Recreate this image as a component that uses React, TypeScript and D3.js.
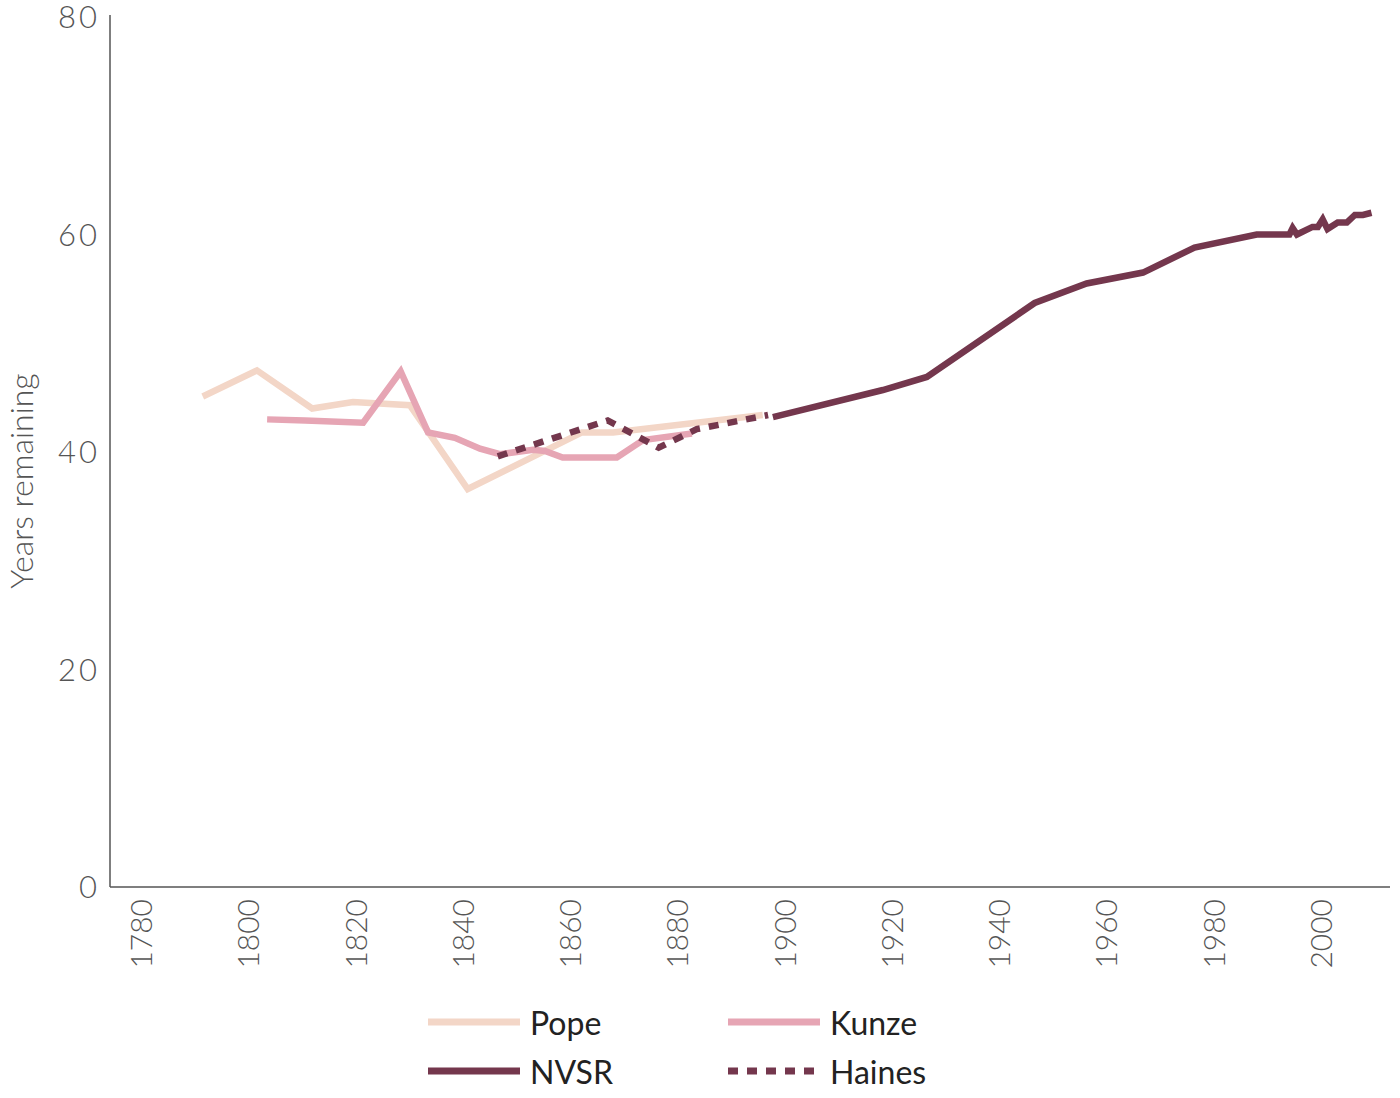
import React from "react";
import * as d3 from "d3";

type Pt = { year: number; value: number };

const popeYears = [1791.7, 1801.8, 1812.1, 1819.7, 1830.3, 1841.1, 1862.4, 1868.2, 1896.1];
const popeValues = [45.1, 47.5, 44.0, 44.6, 44.3, 36.6, 41.8, 41.8, 43.4];

const kunzeYears = [1803.7, 1810.8, 1821.6, 1828.6, 1833.7, 1838.7, 1843.4, 1847.1, 1853.3, 1855.5, 1858.8, 1868.9, 1873.8, 1882.9];
const kunzeValues = [43.0, 42.9, 42.7, 47.4, 41.8, 41.3, 40.3, 39.8, 40.2, 40.1, 39.5, 39.5, 41.1, 41.7];

const hainesYears = [1846.7, 1867.2, 1876.7, 1883.8, 1897.1];
const hainesValues = [39.6, 42.9, 40.4, 42.1, 43.4];

const nvsrYears = [1898.0, 1918.5, 1926.7, 1946.8, 1956.5, 1967.0, 1976.6, 1988.2, 1994.3, 1994.9, 1995.7, 1998.6, 1999.6, 2000.5, 2001.4, 2003.3, 2005.0, 2006.5, 2008.0, 2009.6];
const nvsrValues = [43.2, 45.7, 46.9, 53.7, 55.5, 56.5, 58.8, 60.0, 60.0, 60.6, 60.0, 60.7, 60.7, 61.4, 60.5, 61.1, 61.1, 61.8, 61.8, 62.0];

const xTicks = [1780, 1800, 1820, 1840, 1860, 1880, 1900, 1920, 1940, 1960, 1980, 2000];
const yTicks = [0, 20, 40, 60, 80];

const zip = (ys: number[], vs: number[]): Pt[] => ys.map((y, i) => ({ year: y, value: vs[i] }));

const COLORS = { pope: "#f3d6c7", kunze: "#e6a5b4", nvsr: "#74374d", haines: "#74374d" };
const FONT = "Lato, 'Open Sans', sans-serif";

export default function App() {
  const W = 1400, H = 1098;
  const left = 110, right = 1390, top = 17, bottom = 887;
  const pxPerYear = (1320 - 140) / 220;
  const x = d3.scaleLinear().domain([1780 - (140 - left) / pxPerYear, 1780 + (right - 140) / pxPerYear]).range([left, right]);
  const y = d3.scaleLinear().domain([0, 80]).range([bottom, top]);
  const line = d3.line<Pt>().x((d) => x(d.year)).y((d) => y(d.value));

  const series = [
    { key: "pope", data: zip(popeYears, popeValues), color: COLORS.pope, dash: undefined },
    { key: "kunze", data: zip(kunzeYears, kunzeValues), color: COLORS.kunze, dash: undefined },
    { key: "nvsr", data: zip(nvsrYears, nvsrValues), color: COLORS.nvsr, dash: undefined },
    { key: "haines", data: zip(hainesYears, hainesValues), color: COLORS.haines, dash: "10,9" },
  ];

  const legend = [
    { label: "Pope", color: COLORS.pope, dash: undefined, lx: 428, ly: 1022 },
    { label: "Kunze", color: COLORS.kunze, dash: undefined, lx: 728, ly: 1022 },
    { label: "NVSR", color: COLORS.nvsr, dash: undefined, lx: 428, ly: 1071 },
    { label: "Haines", color: COLORS.haines, dash: "10,9", lx: 728, ly: 1071 },
  ];

  return (
    <svg width={W} height={H} style={{ position: "absolute", left: 0, top: 0, background: "#fff" }} fontFamily={FONT}>
      <line x1={left} x2={left} y1={15} y2={bottom} stroke="#555" strokeWidth={1.5} />
      <line x1={left} x2={right} y1={bottom} y2={bottom} stroke="#555" strokeWidth={1.5} />
      {yTicks.map((t) => (
        <text key={t} x={100} y={y(t) + 11} textAnchor="end" fontSize={31} letterSpacing={3} fill="#555" fontWeight={300}>
          {t}
        </text>
      ))}
      {xTicks.map((t) => (
        <text key={t} transform={`translate(${x(t)},${899}) rotate(-90)`} textAnchor="end" dominantBaseline="central" fontSize={30} fill="#555" fontWeight={300}>
          {t}
        </text>
      ))}
      <text transform={`translate(20,481) rotate(-90)`} textAnchor="middle" dominantBaseline="central" fontSize={32} fill="#555" fontWeight={300}>
        Years remaining
      </text>
      {series.map((s) => (
        <path key={s.key} d={line(s.data) || ""} fill="none" stroke={s.color} strokeWidth={6.5} strokeDasharray={s.dash} strokeLinejoin="miter" />
      ))}
      {legend.map((l) => (
        <g key={l.label}>
          <line x1={l.lx} x2={l.lx + 92} y1={l.ly} y2={l.ly} stroke={l.color} strokeWidth={7} strokeDasharray={l.dash} />
          <text x={l.lx + 102} y={l.ly} dominantBaseline="central" fontSize={32} fill="#222">
            {l.label}
          </text>
        </g>
      ))}
    </svg>
  );
}
